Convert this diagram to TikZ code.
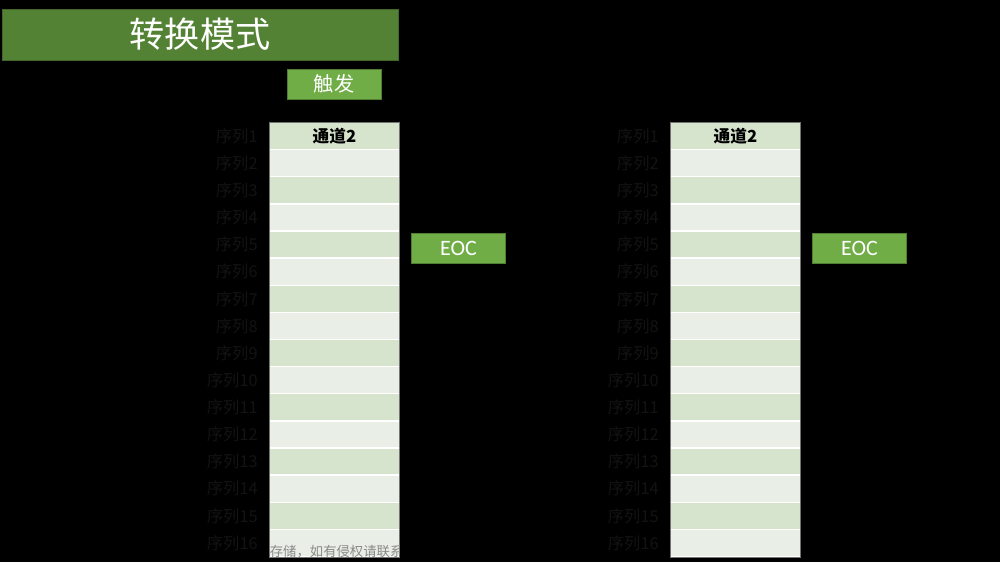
\documentclass[tikz,border=0pt]{standalone}
\usepackage{fontspec}
\setmainfont{Noto Sans CJK SC}
\newfontfamily\eocfont{Carlito}
\definecolor{titlegreen}{HTML}{548235}
\definecolor{titleedge}{HTML}{41672A}
\definecolor{btngreen}{HTML}{70AD47}
\definecolor{btnedge}{HTML}{507E32}
\definecolor{rowdark}{HTML}{D6E3CD}
\definecolor{rowlight}{HTML}{E9EFE6}
\definecolor{labdark}{HTML}{131313}
\definecolor{wmgray}{HTML}{8A8A8A}
\tikzset{
  titlebox/.style={fill=titlegreen, draw=titleedge, line width=0.5pt, minimum width=7.92cm, minimum height=1.02cm, inner sep=0pt, text=white, font=\fontsize{20}{24}\selectfont},
  btn/.style={fill=btngreen, draw=btnedge, line width=0.5pt, minimum width=1.88cm, minimum height=0.6cm, inner sep=0pt, text=white},
  tabrow/.style={minimum width=2.58cm, minimum height=0.516cm, inner sep=0pt, draw=none},
  rowlab/.style={anchor=east, inner sep=0pt, text=labdark, font=\fontsize{9.3}{10}\selectfont},
  tabedge/.style={draw=black!55, line width=0.4pt},
}
\begin{document}
\begin{tikzpicture}[x=0.02cm,y=-0.02cm]
\fill[black] (0,0) rectangle (1000,562);
\useasboundingbox (0,0) rectangle (1000,562);
% title
\node[titlebox] (title) at (200,34.5) {转换模式};
\node[btn, font=\fontsize{11.5}{13}\selectfont] (trig) at (334,84) {触发};
% tables
\foreach \tx/\tn in {269.5/A, 670.5/B}{
  \fill[white] (\tx,122.5) rectangle ++(130,434.5);
  \foreach \i in {1,...,16}{
    \pgfmathsetmacro{\yc}{122.5+(\i-0.5)*27.125}
    \pgfmathtruncatemacro{\odd}{mod(\i,2)}
    \ifnum\odd=1
      \node[tabrow, fill=rowdark] (\tn r\i) at (\tx+65,\yc) {};
    \else
      \node[tabrow, fill=rowlight] (\tn r\i) at (\tx+65,\yc) {};
    \fi
    \node[rowlab] (\tn l\i) at (\tx-11.5,\yc) {序列\i};
  }
  \node[font=\fontsize{9.5}{11}\selectfont\bfseries, inner sep=0pt] (\tn h) at (\tn r1) {通道2};
  \draw[tabedge] (\tx,122.5) rectangle ++(130,434.5);
}
% watermark
\begin{scope}
\clip (269.5,538) rectangle (399.5,557);
\node[anchor=west, inner sep=0pt, text=wmgray, font=\fontsize{7.6}{9}\selectfont] (wm) at (269.5,552) {存储，如有侵权请联系};
\end{scope}
% EOC boxes
\node[btn, font=\eocfont\fontsize{12.5}{14}\selectfont] (eocA) at (458.5,248) {EOC};
\node[btn, font=\eocfont\fontsize{12.5}{14}\selectfont] (eocB) at (859.5,248) {EOC};
\end{tikzpicture}
\end{document}
